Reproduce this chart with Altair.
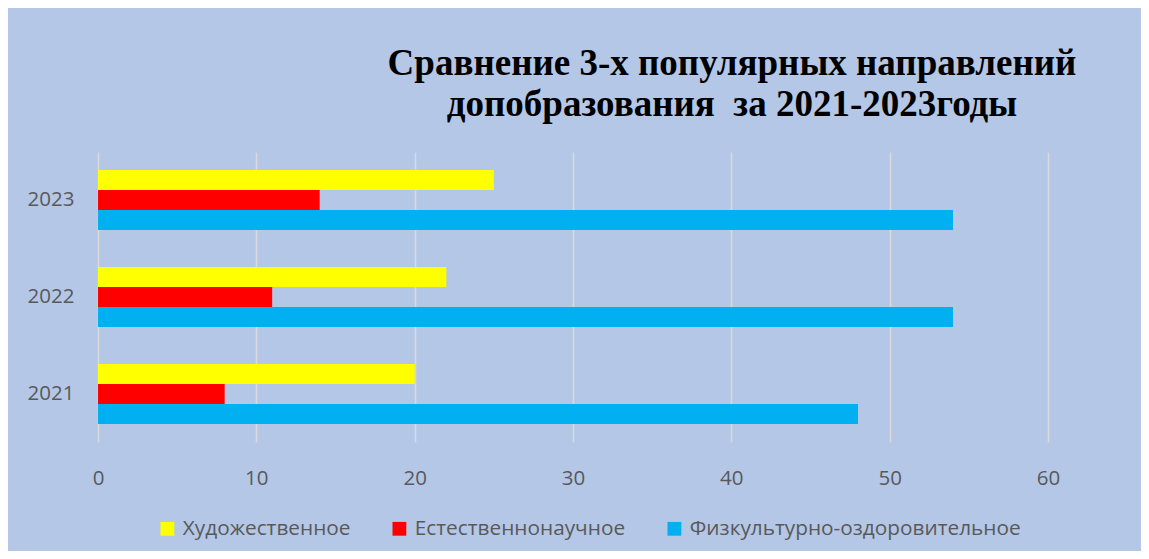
import altair as alt
import pandas as pd

years = ["2023", "2022", "2021"]
series = ["Художественное", "Естественнонаучное", "Физкультурно-оздоровительное"]
colors = ["#FFFF00", "#FF0000", "#00B0F0"]
art = [25, 22, 20]
science = [14, 11, 8]
sport = [54, 54, 48]
x_ticks = [0, 10, 20, 30, 40, 50, 60]
title_lines = ["Сравнение 3-х популярных направлений",
               "допобразования\u00a0 за 2021-2023годы"]

rows = []
for i, y in enumerate(years):
    for s, vals in zip(series, [art, science, sport]):
        rows.append({"year": y, "series": s, "value": vals[i]})
df = pd.DataFrame(rows)

gray = "#595959"
font = "Open Sans"

chart = alt.Chart(df).mark_bar().encode(
    x=alt.X("value:Q",
            scale=alt.Scale(domain=[0, 60], nice=False),
            axis=alt.Axis(values=x_ticks, title=None, domain=False, ticks=False,
                          grid=True, gridColor="#D9D9D9", gridWidth=1.5,
                          labelFlush=False,
                          labelFont=font, labelFontSize=20.5, labelColor=gray,
                          labelPadding=26)),
    y=alt.Y("year:N", sort=years,
            scale=alt.Scale(paddingInner=0.38, paddingOuter=0.185),
            axis=alt.Axis(title=None, domain=False, ticks=False,
                          labelFont=font, labelFontSize=20.5, labelColor=gray,
                          labelPadding=24)),
    yOffset=alt.YOffset("series:N", sort=series,
                        scale=alt.Scale(paddingInner=0, paddingOuter=0)),
    color=alt.Color("series:N", sort=series,
                    scale=alt.Scale(domain=series, range=colors),
                    legend=alt.Legend(title=None, orient="none", direction="horizontal",
                                      legendX=59, legendY=366,
                                      symbolType="square", symbolSize=190,
                                      symbolStrokeWidth=0,
                                      labelFont=font, labelFontSize=20.8,
                                      labelColor=gray, labelOffset=5,
                                      columnPadding=38, labelLimit=500)),
).properties(
    width=950,
    height=290,
    title=alt.TitleParams(text=title_lines, font="Liberation Serif", fontSize=37,
                          fontWeight="bold", color="black", anchor="middle",
                          dx=159, offset=28, lineHeight=41),
    background="#B4C7E7",
    padding={"left": 90, "top": 144, "right": 93, "bottom": 109},
    autosize=alt.AutoSizeParams(type="none"),
).configure_view(stroke=None)

chart.save("out.html", embed_options={"renderer": "svg", "actions": False})
